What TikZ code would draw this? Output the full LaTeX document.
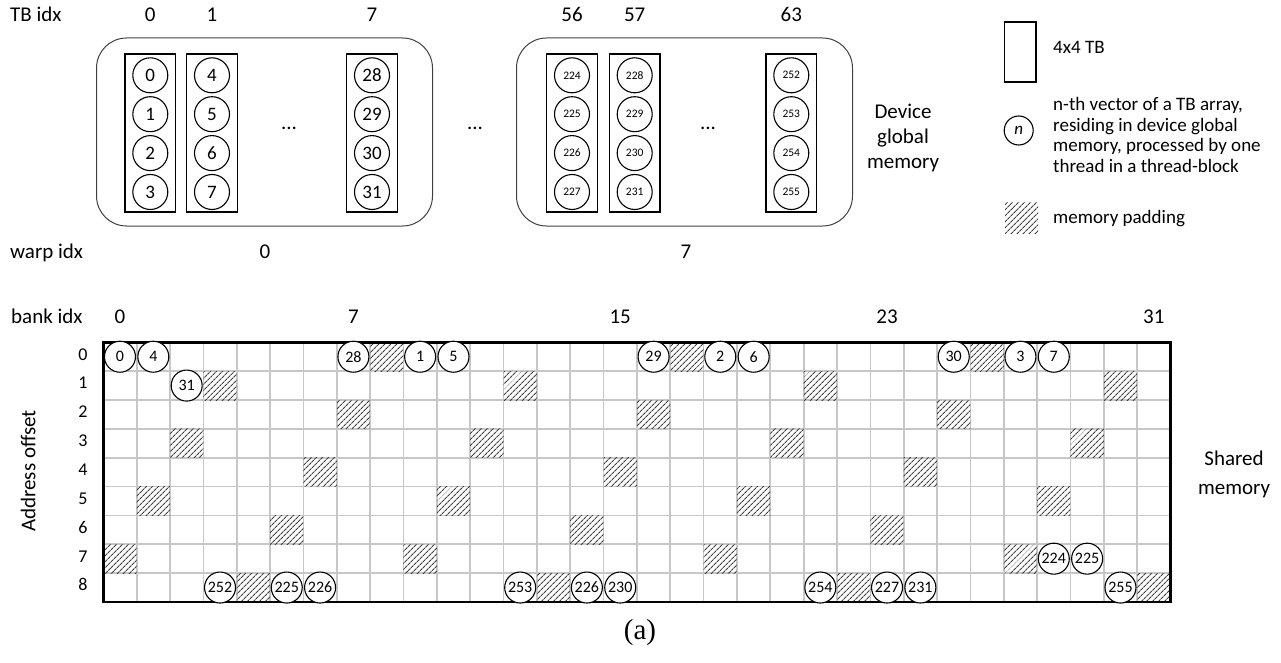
\documentclass[tikz,border=0pt]{standalone}
\usepackage{fontspec}
\setmainfont{Carlito}
\newfontfamily\seriffont{Liberation Serif}
\usetikzlibrary{patterns.meta}
\begin{document}
\begin{tikzpicture}[x=1pt,y=-1pt,
  lbl/.style={font=\fontsize{21}{25}\selectfont, inner sep=0pt},
  leg/.style={font=\fontsize{19}{21}\selectfont, inner sep=0pt, anchor=base west},
  tbrect/.style={draw, line width=1.3pt, minimum width=50.7pt, minimum height=158pt, inner sep=0pt},
  vcirc/.style={circle, draw, line width=1.1pt, minimum size=35pt, inner sep=0pt},
  panel/.style={draw=black!75, line width=1pt, rounded corners=30pt, minimum width=336pt, minimum height=188pt, inner sep=0pt},
  gcirc/.style={circle, draw, fill=white, line width=1.1pt, minimum size=31pt, inner sep=0pt, font=\fontsize{16}{16}\selectfont},
  hatch/.style={pattern={Lines[angle=45,distance=4pt,line width=1.2pt]}, pattern color=black!75},
  gridl/.style={draw=black!22, line width=1.7pt},
]
\useasboundingbox (0,0) rectangle (1281,663);

% ---------- top: device global memory ----------
\node[lbl, anchor=mid west] (tbidx) at (10,19.5) {TB idx};
\node[panel] (panelA) at (264.5,132) {};
\node[panel] (panelB) at (684.5,132) {};

\foreach \t/\x/\b/\fs in {0/150.3/0/19, 1/212/4/19, 7/372/28/19, 56/572/224/11.5, 57/634.7/228/11.5, 63/791.3/252/11.5}{
  \node[lbl, anchor=mid] (tbl\t) at (\x,19.5) {\t};
  \node[tbrect] (tb\t) at (\x,133) {};
  \foreach \k in {0,1,2,3}{
    \pgfmathtruncatemacro{\v}{\b+\k}
    \node[vcirc, font=\fontsize{\fs}{\fs}\selectfont] (v\v) at (\x,{75.3+\k*38.9}) {\v};
  }
}
\node[lbl, anchor=mid] (dotsA) at (289,127) {...};
\node[lbl, anchor=mid] (dotsM) at (475,127) {...};
\node[lbl, anchor=mid] (dotsB) at (708,127) {...};
\node[lbl, align=center, font=\fontsize{21}{25}\selectfont] (dgm) at (903,138) {Device\\global\\memory};

\node[lbl, anchor=mid west] (warpidx) at (10,256.5) {warp idx};
\node[lbl, anchor=mid] (w0) at (265,256.5) {0};
\node[lbl, anchor=mid] (w7) at (686,256.5) {7};

% ---------- legend ----------
\node[draw, line width=1.3pt, minimum width=31.7pt, minimum height=60pt, inner sep=0pt] (legrect) at (1020,52) {};
\node[leg, anchor=mid west] (legtb) at (1053,51) {4x4 TB};
\node[circle, draw, line width=1.1pt, minimum size=29pt, inner sep=0pt, font=\fontsize{17}{17}\selectfont\itshape] (legcirc) at (1018.7,130.5) {n};
\node[leg] (lega) at (1053,111) {n-th vector of a TB array,};
\node[leg] (legb) at (1053,131.5) {residing in device global};
\node[leg] (legc) at (1053,152) {memory, processed by one};
\node[leg] (legd) at (1053,172.5) {thread in a thread-block};
\path[hatch] (1005,202) rectangle (1038,233);
\node[leg, anchor=mid west] (legpad) at (1053,221) {memory padding};

% ---------- bottom: shared memory ----------
\node[lbl, anchor=mid west] (bankidx) at (11,321.5) {bank idx};
\foreach \c in {0,7,15,23,31}{
  \node[lbl, anchor=mid] (bk\c) at ({103.3+(\c+0.5)*33.35},321.5) {\c};
}
\foreach \r in {0,...,8}{
  \node[lbl, anchor=mid, font=\fontsize{18}{18}\selectfont] (row\r) at (83,{342.3+(\r+0.5)*28.85+1}) {\r};
}
\node[lbl, rotate=90, anchor=mid] (addr) at (33,471) {Address offset};
\node[lbl, align=center, font=\fontsize{21}{29}\selectfont] (shm) at (1234,474) {Shared\\memory};

\foreach \i in {1,...,31} \draw[gridl] ({103.3+\i*33.35},342.3) -- ++(0,259.6);
\foreach \j in {1,...,8} \draw[gridl] (103.3,{342.3+\j*28.85}) -- ++(1067.2,0);

\foreach \c/\r in {8/0,17/0,26/0, 3/1,12/1,21/1,30/1, 7/2,16/2,25/2, 2/3,11/3,20/3,29/3,
  6/4,15/4,24/4, 1/5,10/5,19/5,28/5, 5/6,14/6,23/6, 0/7,9/7,18/7,27/7, 4/8,13/8,22/8,31/8}{
  \path[hatch] ({103.3+\c*33.35},{342.3+\r*28.85}) rectangle ++(33.35,28.85);
}

\draw[line width=2.5pt] (103.3,342.3) rectangle ++(1067.2,259.6);

\foreach \c/\r/\l in {0/0/0, 1/0/4, 7/0/28, 9/0/1, 10/0/5, 16/0/29, 18/0/2, 19/0/6, 25/0/30, 27/0/3, 28/0/7,
  2/1/31, 28/7/224, 29/7/225,
  3/8/252, 5/8/225, 6/8/226, 12/8/253, 14/8/226, 15/8/230, 21/8/254, 23/8/227, 24/8/231, 30/8/255}{
  \node[gcirc] (g\c-\r) at ({103.3+(\c+0.5)*33.35},{342.3+(\r+0.5)*28.85}) {\l};
}

\node[inner sep=0pt, font=\seriffont\fontsize{29}{29}\selectfont] (cap) at (640,633) {(a)};
\end{tikzpicture}
\end{document}
